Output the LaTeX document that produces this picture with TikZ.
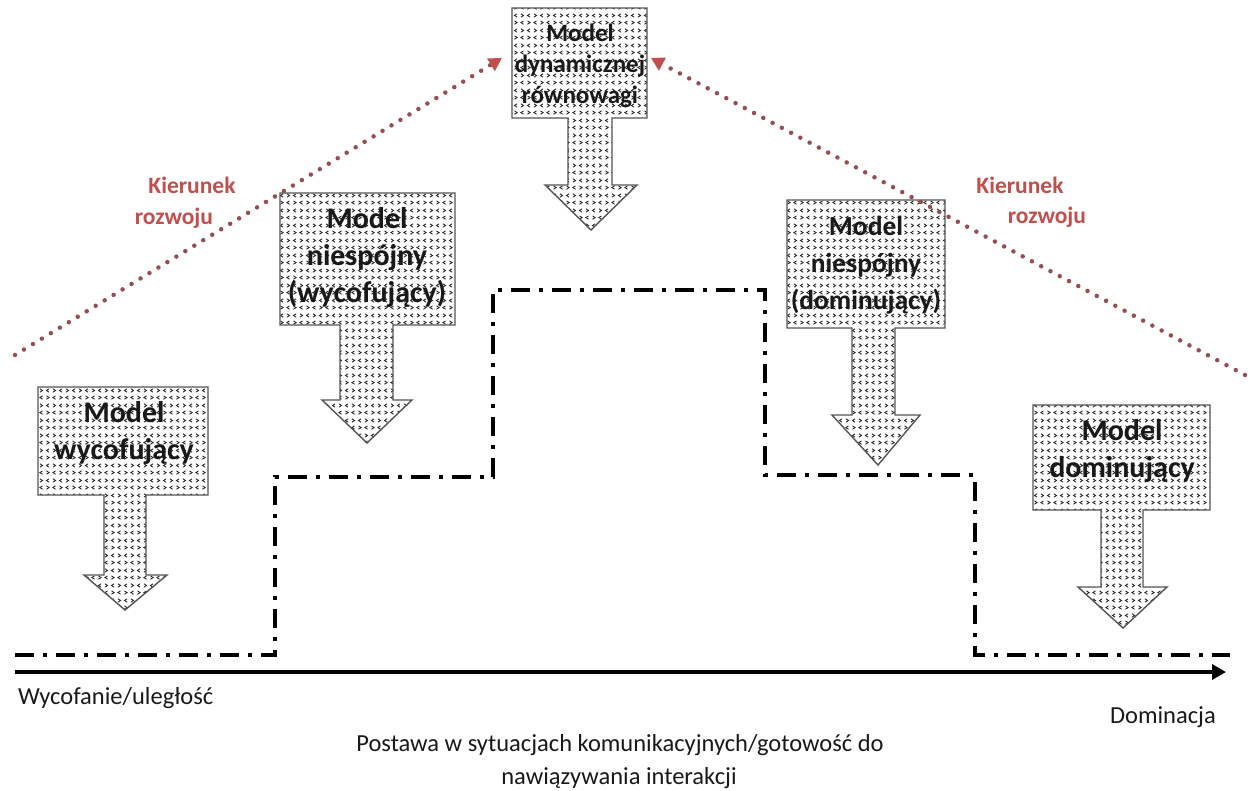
\documentclass[tikz,border=0pt]{standalone}
\usepackage{graphicx}
\usepackage{fontspec}
\setmainfont{Carlito}
\usetikzlibrary{patterns,arrows.meta}
\definecolor{kred}{RGB}{192,80,77}
\definecolor{kdot}{RGB}{150,78,82}
\definecolor{kborder}{RGB}{85,85,85}
\pgfdeclarepatternformonly{chev}{\pgfpointorigin}{\pgfpoint{13pt}{15pt}}{\pgfpoint{13pt}{15pt}}{%
  \pgfsetlinewidth{0.9pt}%
  \pgfpathmoveto{\pgfpoint{3.8pt}{0.8pt}}\pgfpathlineto{\pgfpoint{1.0pt}{2.6pt}}\pgfpathlineto{\pgfpoint{3.8pt}{4.4pt}}%
  \pgfpathmoveto{\pgfpoint{8pt}{0.8pt}}\pgfpathlineto{\pgfpoint{10.8pt}{2.6pt}}\pgfpathlineto{\pgfpoint{8pt}{4.4pt}}%
  \pgfpathmoveto{\pgfpoint{1.0pt}{8.3pt}}\pgfpathlineto{\pgfpoint{3.8pt}{10.1pt}}\pgfpathlineto{\pgfpoint{1.0pt}{11.9pt}}%
  \pgfpathmoveto{\pgfpoint{10.8pt}{8.3pt}}\pgfpathlineto{\pgfpoint{8pt}{10.1pt}}\pgfpathlineto{\pgfpoint{10.8pt}{11.9pt}}%
  \pgfusepath{stroke}}
\begin{document}
\begin{tikzpicture}[x=1pt,y=-1pt,
  callout/.style={preaction={fill=white}, pattern=chev, pattern color=black!85, draw=kborder, line width=1.4pt, line join=miter},
  ctext/.style={inner sep=0pt, align=center, text=black!90, font=\bfseries\fontsize{30}{37}\selectfont},
  ctextd/.style={inner sep=0pt, align=center, text=black!90, font=\bfseries\fontsize{27.5}{37}\selectfont},
  ctextc/.style={inner sep=0pt, align=center, text=black!90, font=\bfseries\fontsize{25}{31}\selectfont},
  rlabel/.style={inner sep=0pt, text=kred, font=\bfseries\fontsize{23.5}{28}\selectfont},
  btext/.style={inner sep=0pt, text=black!90, font=\fontsize{24.5}{30}\selectfont},
  dotline/.style={draw=kdot, line width=4.5pt, dash pattern=on 0pt off 10.5pt, line cap=round},
  dashdot/.style={draw=black, line width=3.6pt, dash pattern=on 19pt off 9pt on 4pt off 9pt},
  axisline/.style={draw=black, line width=3.6pt, -{Triangle[length=14pt,width=15pt]}}
]
\useasboundingbox (0,0) rectangle (1250,790);

% step line
\draw[dashdot] (15,655) -- (275,655) -- (275,477) -- (493,477) -- (493,290) -- (765,290) -- (765,475) -- (975,475) -- (975,655) -- (1230,655);

% axis
\coordinate (axL) at (15,672);
\coordinate (axR) at (1226,672);
\draw[axisline] (axL) -- (axR);

% callouts
\draw[callout] (38,387) -- (208,387) -- (208,495) -- (146,495) -- (146,575) -- (167,575) -- (125,610) -- (84,575) -- (104,575) -- (104,495) -- (38,495) -- cycle;
\draw[callout] (280,193) -- (455,193) -- (455,325) -- (393,325) -- (393,400) -- (412,400) -- (367,443) -- (322,400) -- (340,400) -- (340,325) -- (280,325) -- cycle;
\draw[callout] (512,8) -- (647,8) -- (647,118) -- (612,118) -- (612,185) -- (637,185) -- (591,230) -- (545,185) -- (568,185) -- (568,118) -- (512,118) -- cycle;
\draw[callout] (787,200) -- (945,200) -- (945,328) -- (895,328) -- (895,415) -- (920,415) -- (878,465) -- (832,415) -- (852,415) -- (852,328) -- (787,328) -- cycle;
\draw[callout] (1033,405) -- (1210,405) -- (1210,510) -- (1143,510) -- (1143,587) -- (1167,587) -- (1123,628) -- (1078,587) -- (1101,587) -- (1101,510) -- (1033,510) -- cycle;

% callout texts
\node[ctext] (tA) at (124,433) {Model\\wycofujący};
\node[ctext] (tB) at (367,258) {Model\\niespójny\\(wycofujący)};
\node[ctextc] (tC) at (580,66) {Model\\dynamicznej\\równowagi};
\node[ctextd] (tD) at (866,265) {Model\\niespójny\\(dominujący)};
\node[ctext] (tE) at (1122,451) {Model\\dominujący};

% development direction
\coordinate (dL0) at (15,355);
\coordinate (dL1) at (502,58);
\coordinate (dR0) at (1245,375);
\coordinate (dR1) at (651,58);
\draw[dotline, -{Triangle[length=13pt,width=14pt,color=kred]}] (dL0) -- (dL1);
\draw[dotline, -{Triangle[length=13pt,width=14pt,color=kred]}] (dR0) -- (dR1);
\node[rlabel] (kL1) at (192,185) {Kierunek};
\node[rlabel] (kL2) at (174,218) {rozwoju};
\node[rlabel] (kR1) at (1020,185) {Kierunek};
\node[rlabel] (kR2) at (1047,217) {rozwoju};

% axis labels
\node[btext, anchor=west] (wL) at (18,698) {Wycofanie/uległość};
\node[btext, anchor=east] (wR) at (1216,717) {Dominacja};
\node[btext] (p1) at (620,745) {Postawa w sytuacjach komunikacyjnych/gotowość do};
\node[btext] (p2) at (619,778) {nawiązywania interakcji};
\end{tikzpicture}
\end{document}
